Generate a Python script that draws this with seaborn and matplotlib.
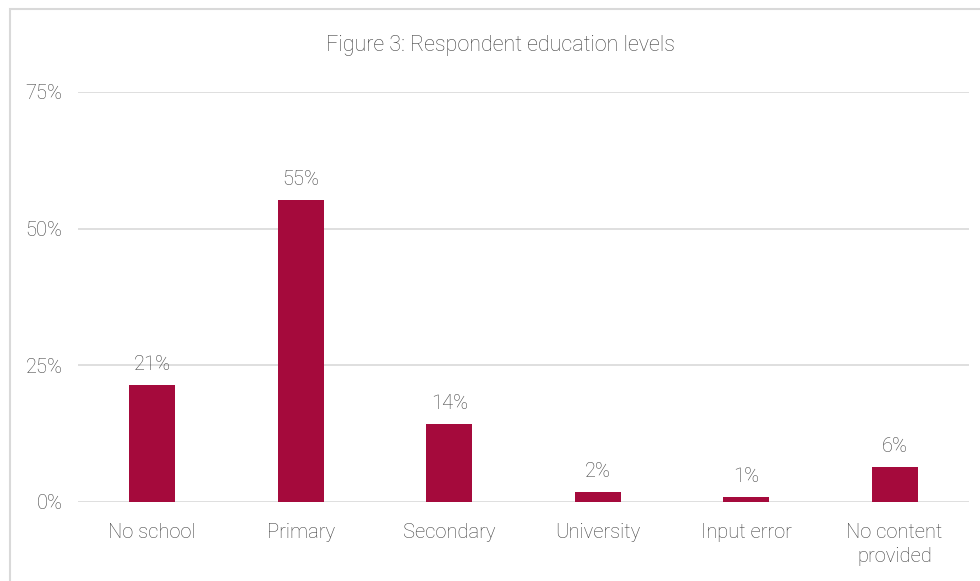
import matplotlib
matplotlib.use("Agg")
import matplotlib.pyplot as plt
import seaborn as sns
import pandas as pd
from matplotlib.patches import Rectangle
from matplotlib.ticker import FuncFormatter

categories = ["No school", "Primary", "Secondary", "University", "Input error", "No content\nprovided"]
shares = [21.3, 55.2, 14.3, 1.8, 0.9, 6.4]
labels = ["21%", "55%", "14%", "2%", "1%", "6%"]
yticks = [0, 25, 50, 75]

sns.set_style("white")
plt.rcParams["font.family"] = ["Roboto", "DejaVu Sans"]
plt.rcParams["font.weight"] = "light"

grey = "#404040"
df = pd.DataFrame({"cat": categories, "val": shares})

fig = plt.figure(figsize=(9.8, 5.81), dpi=100)
ax = fig.add_axes([0.0796, 0.136, 0.909, 0.706])
sns.barplot(data=df, x="cat", y="val", color="#A50A3C", width=0.31, saturation=1,
            linewidth=0, ax=ax)

ax.set_ylim(0, 75)
ax.set_yticks(yticks)
ax.yaxis.set_major_formatter(FuncFormatter(lambda v, p: f"{v:.0f}%"))
ax.grid(axis="y", color="#D9D9D9", linewidth=1.2)
ax.set_axisbelow(True)
for s in ax.spines.values():
    s.set_visible(False)
ax.tick_params(axis="both", length=0, labelsize=14.5, labelcolor=grey)
ax.tick_params(axis="y", pad=11)
ax.tick_params(axis="x", pad=15)
for t in ax.get_xticklabels():
    t.set_linespacing(1.35)
ax.set_xlabel("")
ax.set_ylabel("")

ax.bar_label(ax.containers[0], labels=labels, padding=8, fontsize=14.5, color=grey)

fig.text(500 / 980, 1 - 46 / 581, "Figure 3: Respondent education levels", ha="center", va="center",
         fontsize=15.5, color=grey)
fig.patches.append(Rectangle((10 / 980, -0.2), 1.2, 1.2 - 9 / 581, transform=fig.transFigure,
                             fill=False, edgecolor="#D9D9D9", linewidth=1.5, clip_on=False))

fig.savefig("out.png", dpi=100)
